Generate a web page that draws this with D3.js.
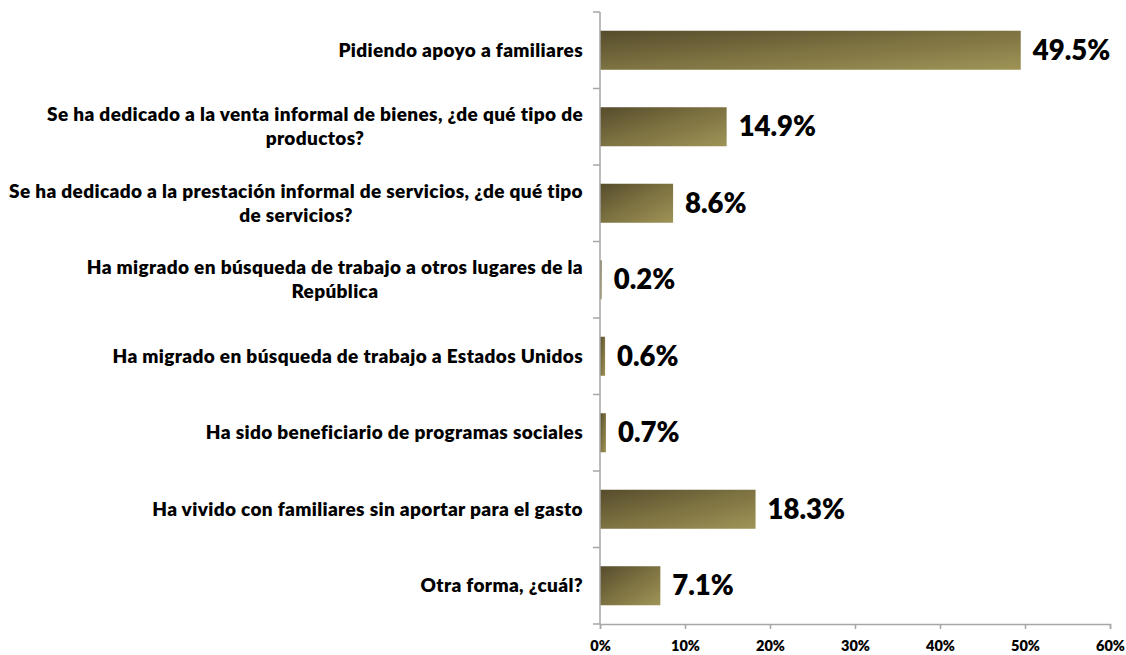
<!DOCTYPE html>
<html>
<head>
<meta charset="utf-8">
<script src="https://cdn.jsdelivr.net/npm/d3@7"></script>
<style>
    body { margin: 0; background: #fff; }
    svg { display: block; }
    text { font-family: Lato, "Open Sans", sans-serif; font-weight: 800; fill: #000; }
</style>
</head>
<body>
<div id="chart"></div>
<script>
'use strict';
// categories, top to bottom (line breaks as in the original)
var categories = [
    ["Pidiendo apoyo a familiares"],
    ["Se ha dedicado a la venta informal de bienes, ¿de qué tipo de", "productos?"],
    ["Se ha dedicado a la prestación informal de servicios, ¿de qué tipo", "de servicios?"],
    ["Ha migrado en búsqueda de trabajo a otros lugares de la", "República"],
    ["Ha migrado en búsqueda de trabajo a Estados Unidos"],
    ["Ha sido beneficiario de programas sociales"],
    ["Ha vivido con familiares sin aportar para el gasto"],
    ["Otra forma, ¿cuál?"]
];
var values = [49.5, 14.9, 8.6, 0.2, 0.6, 0.7, 18.3, 7.1];
var xTicks = [0, 10, 20, 30, 40, 50, 60];

var chartW = 1126, chartH = 655;
var plotLeft = 600, plotRight = 1110, plotTop = 12, plotBottom = 624;

var svg = d3.select("#chart")
    .append("svg")
    .attr("width", chartW)
    .attr("height", chartH);

var defs = svg.append("defs");
var grad = defs.append("linearGradient")
    .attr("id", "barGrad")
    .attr("x1", 0).attr("y1", 0)
    .attr("x2", 1).attr("y2", 1);
grad.append("stop").attr("offset", "0%").attr("stop-color", "#564c2c");
grad.append("stop").attr("offset", "50%").attr("stop-color", "#7d7241");
grad.append("stop").attr("offset", "100%").attr("stop-color", "#9f9456");

var x = d3.scaleLinear().domain([0, 60]).range([plotLeft, plotRight]);
var y = d3.scaleBand()
    .domain(d3.range(categories.length))
    .range([plotTop, plotBottom])
    .paddingInner(0.49)
    .paddingOuter(0.245);

var axisColor = "#a6a6a6";

// bars
svg.selectAll(".bar")
    .data(values)
    .enter()
    .append("rect")
    .attr("class", "bar")
    .attr("x", x(0))
    .attr("y", function (d, i) { return y(i); })
    .attr("width", function (d) { return x(d) - x(0); })
    .attr("height", y.bandwidth())
    .attr("fill", "url(#barGrad)");

// value labels
svg.selectAll(".val")
    .data(values)
    .enter()
    .append("text")
    .attr("class", "val")
    .attr("x", function (d) { return x(d) + 12; })
    .attr("y", function (d, i) { return y(i) + y.bandwidth() / 2 + 9.5; })
    .style("font-size", "27.5px")
    .text(function (d) { return d.toFixed(1) + "%"; });

// y axis line + ticks at band boundaries
svg.append("line")
    .attr("x1", plotLeft).attr("x2", plotLeft)
    .attr("y1", plotTop).attr("y2", plotBottom)
    .attr("stroke", axisColor).attr("stroke-width", 1.5);
svg.selectAll(".ytick")
    .data(d3.range(categories.length + 1))
    .enter()
    .append("line")
    .attr("class", "ytick")
    .attr("x1", plotLeft - 7).attr("x2", plotLeft)
    .attr("y1", function (i) { return plotTop + i * y.step(); })
    .attr("y2", function (i) { return plotTop + i * y.step(); })
    .attr("stroke", axisColor).attr("stroke-width", 1.5);

// x axis
var xAxis = svg.append("g")
    .attr("transform", "translate(0," + plotBottom + ")")
    .call(d3.axisBottom(x).tickValues(xTicks).tickSize(5).tickPadding(12)
        .tickFormat(function (d) { return d + "%"; }));
xAxis.select(".domain").attr("stroke", axisColor).attr("stroke-width", 1.5);
xAxis.selectAll(".tick line").attr("stroke", axisColor).attr("stroke-width", 1.5);
xAxis.selectAll(".tick text")
    .style("font-size", "14.5px")
    .style("font-family", "Lato, sans-serif")
    .style("font-weight", "800")
    .attr("fill", "#000");

// category labels: lines centred, block right-aligned against the axis
var lineH = 24;
svg.selectAll(".cat")
    .data(categories)
    .enter()
    .append("text")
    .attr("class", "cat")
    .style("font-size", "19px")
    .style("letter-spacing", "0.35px")
    .attr("text-anchor", "middle")
    .each(function (lines, i) {
        var t = d3.select(this);
        var cy = y(i) + y.bandwidth() / 2;
        var y0 = cy + 6.5 - (lines.length - 1) * lineH / 2;
        lines.forEach(function (s, k) {
            t.append("tspan").attr("x", 0).attr("y", y0 + k * lineH).text(s);
        });
        var w = this.getBBox().width;
        t.attr("transform", "translate(" + (plotLeft - 17 - w / 2) + ",0)");
    });
</script>
</body>
</html>
